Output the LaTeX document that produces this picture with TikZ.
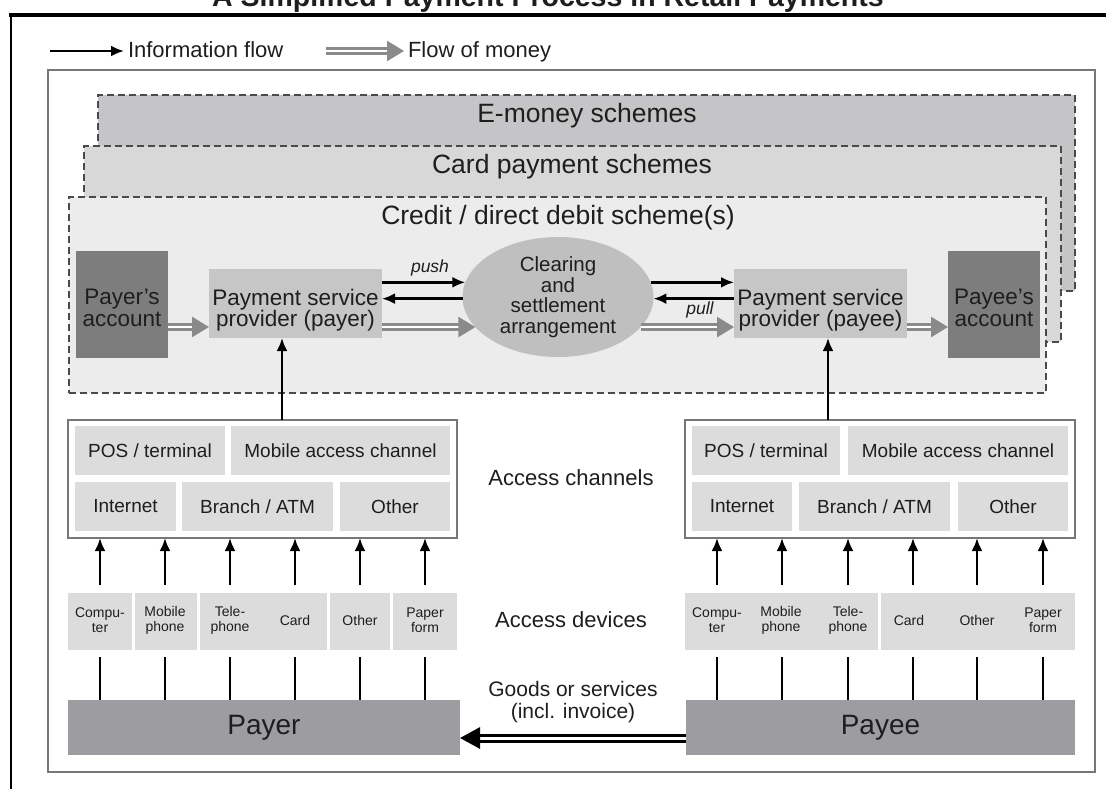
\documentclass[tikz,border=0pt]{standalone}
\usepackage{fontspec}
\setmainfont{Liberation Sans}
\usetikzlibrary{arrows.meta,shapes.geometric}

\definecolor{txt}{HTML}{1E1E1E}
\definecolor{framegray}{HTML}{777777}
\definecolor{dashgray}{HTML}{4A4A4A}
\definecolor{emfill}{HTML}{C5C5C7}
\definecolor{cardfill}{HTML}{D8D8D8}
\definecolor{creditfill}{HTML}{ECECEC}
\definecolor{acctfill}{HTML}{7D7D7D}
\definecolor{pspfill}{HTML}{C6C6C6}
\definecolor{ellfill}{HTML}{BFBFBF}
\definecolor{cellfill}{HTML}{DCDCDC}
\definecolor{partyfill}{HTML}{9D9CA1}
\definecolor{moneygray}{HTML}{8A8A8A}

\begin{document}
\begin{tikzpicture}[x=1pt,y=-1pt,
  every node/.style={inner sep=0pt,outer sep=0pt,text=txt},
  ttl/.style={font=\fontsize{28.5}{32}\selectfont\bfseries},
  bigf/.style={font=\fontsize{26.5}{28}\selectfont},
  midf/.style={font=\fontsize{22.5}{21}\selectfont,align=center},
  acctf/.style={font=\fontsize{22.5}{22}\selectfont,align=center},
  ellf/.style={font=\fontsize{20.5}{20.5}\selectfont,align=center},
  cellf/.style={font=\fontsize{19}{22}\selectfont},
  labf/.style={font=\fontsize{22}{24}\selectfont},
  devf/.style={font=\fontsize{14}{15}\selectfont,align=center},
  partyf/.style={font=\fontsize{28}{30}\selectfont},
  goodsf/.style={font=\fontsize{21}{21.5}\selectfont,align=center},
  italf/.style={font=\fontsize{17.5}{20}\selectfont\itshape},
  outerframe/.style={rectangle,draw=framegray,line width=1.5pt,fill=white},
  schemebox/.style={rectangle,draw=dashgray,line width=1.2pt,dash pattern=on 7pt off 4pt},
  acct/.style={rectangle,fill=acctfill},
  psp/.style={rectangle,fill=pspfill},
  hub/.style={ellipse,fill=ellfill},
  chanbox/.style={rectangle,draw=framegray,line width=1.5pt,fill=white},
  cell/.style={rectangle,fill=cellfill},
  party/.style={rectangle,fill=partyfill},
  info/.style={draw=black,line width=2.9pt,-{Latex[length=13pt,width=11pt]}},
  link/.style={draw=black,line width=2.4pt},
  money/.style={draw=moneygray,line width=2.6pt,double=white,double distance=2.6pt,
    -{Triangle[length=17pt,width=20pt]}},
  goods/.style={draw=black,line width=3pt,double=white,double distance=3pt,
    -{Triangle[length=20pt,width=21pt]}}
]
\useasboundingbox (0,0) rectangle (1106,789);
\fill[white] (0,0) rectangle (1106,789);

% heading and page rules
\node[ttl,anchor=base] (title) at (548,7) {A Simplified Payment Process in Retail Payments};
\draw[line width=3.5pt] (9,15) -- (1106,15);
\draw[line width=2.5pt] (11,15) -- (11,789);

% legend
\coordinate (lg1) at (50,51);
\coordinate (lg2) at (124,51);
\draw[info] (lg1) -- (lg2);
\node[labf,anchor=base west] (legInfo) at (128,58) {Information flow};
\coordinate (lg3) at (326,51);
\coordinate (lg4) at (404,51);
\draw[money] (lg3) -- (lg4);
\node[labf,anchor=base west] (legMoney) at (408,58) {Flow of money};

% outer frame
\node[outerframe,minimum width=1047pt,minimum height=702pt] (frame) at (571.5,421) {};

% stacked payment schemes
\node[schemebox,fill=emfill,minimum width=977pt,minimum height=196pt] (emoney) at (586.5,193) {};
\node[bigf,anchor=base] (tEm) at (587,123) {E-money schemes};
\node[schemebox,fill=cardfill,minimum width=977pt,minimum height=196pt] (card) at (572.5,244) {};
\node[bigf,anchor=base] (tCard) at (572,174) {Card payment schemes};
\node[schemebox,fill=creditfill,minimum width=977pt,minimum height=196pt] (credit) at (557.5,295) {};
\node[bigf,anchor=base] (tCredit) at (558,224) {Credit / direct debit scheme(s)};

% accounts, providers and clearing
\node[acct,minimum width=92pt,minimum height=107pt] (paL) at (122,304.5) {};
\node[acctf] (tpaL) at (122,308) {Payer's\\account};
\node[psp,minimum width=173pt,minimum height=69pt] (pspL) at (295.5,303.5) {};
\node[midf] (tpspL) at (295.5,310) {Payment service\\provider (payer)};
\node[hub,ellf,minimum width=191pt,minimum height=120pt] (csa) at (558,297) {Clearing\\and\\settlement\\arrangement};
\node[psp,minimum width=173pt,minimum height=69pt] (pspR) at (820.5,303.5) {};
\node[midf] (tpspR) at (820.5,310) {Payment service\\provider (payee)};
\node[acct,minimum width=92pt,minimum height=107pt] (paR) at (994,304.5) {};
\node[acctf] (tpaR) at (994,308) {Payee's\\account};

% information flows around the clearing arrangement
\draw[info] (csa.171 -| pspL.east) -- (csa.171);
\draw[info] (csa.181) -- (csa.181 -| pspL.east);
\node[italf] (push) at (430,268) {push};
\draw[info] (csa.9) -- (csa.9 -| pspR.west);
\draw[info] (csa.359 -| pspR.west) -- (csa.359);
\node[italf] (pull) at (700,310) {pull};

% money flows
\draw[money] ([yshift=-22.5pt]paL.east) -- ([yshift=-22.5pt]paL.east -| pspL.west);
\draw[money] (csa.200 -| pspL.east) -- (csa.200);
\draw[money] (csa.340) -- (csa.340 -| pspR.west);
\draw[money] ([yshift=-22.5pt]paR.west -| pspR.east) -- ([yshift=-22.5pt]paR.west);

% access channels
\node[chanbox,minimum width=389pt,minimum height=118pt] (accL) at (262.5,479) {};
\node[cell,cellf,minimum width=150pt,minimum height=49pt] (cPosL) at (150,450.5) {POS / terminal};
\node[cell,cellf,minimum width=219pt,minimum height=49pt] (cMobL) at (340.5,450.5) {Mobile access channel};
\node[cell,cellf,minimum width=101pt,minimum height=49pt] (cNetL) at (125.5,506.5) {Internet};
\node[cell,cellf,minimum width=151pt,minimum height=49pt] (cAtmL) at (257.5,506.5) {Branch / ATM};
\node[cell,cellf,minimum width=110pt,minimum height=49pt] (cOthL) at (395,506.5) {Other};

\node[chanbox,minimum width=390pt,minimum height=118pt] (accR) at (880,479) {};
\node[cell,cellf,minimum width=148pt,minimum height=49pt] (cPosR) at (766,450.5) {POS / terminal};
\node[cell,cellf,minimum width=220pt,minimum height=49pt] (cMobR) at (958,450.5) {Mobile access channel};
\node[cell,cellf,minimum width=100pt,minimum height=49pt] (cNetR) at (742,506.5) {Internet};
\node[cell,cellf,minimum width=151pt,minimum height=49pt] (cAtmR) at (874.5,506.5) {Branch / ATM};
\node[cell,cellf,minimum width=110pt,minimum height=49pt] (cOthR) at (1013,506.5) {Other};

\node[labf] (tChan) at (571,478) {Access channels};

\coordinate (vL) at (282,420);
\draw[info] (vL |- accL.north) -- (vL |- pspL.south);
\coordinate (vR) at (828,420);
\draw[info] (vR |- accR.north) -- (vR |- pspR.south);

% access devices
\node[cell,minimum width=64pt,minimum height=57pt] (dL1) at (100,621.5) {};
\node[cell,minimum width=62pt,minimum height=57pt] (dL2) at (166,621.5) {};
\node[cell,minimum width=127pt,minimum height=57pt] (dL3) at (263.5,621.5) {};
\node[cell,minimum width=60pt,minimum height=57pt] (dL4) at (360,621.5) {};
\node[cell,minimum width=64pt,minimum height=57pt] (dL5) at (425,621.5) {};
\node[cell,minimum width=193pt,minimum height=57pt] (dR1) at (781.5,621.5) {};
\node[cell,minimum width=194pt,minimum height=57pt] (dR2) at (978,621.5) {};

\foreach \x/\t [count=\i] in {100/{Compu-\\ter},165/{Mobile\\phone},230/{Tele-\\phone},295/{Card},360/{Other},425/{Paper\\form}} {
  \node[devf] (lL\i) at (\x,620) {\t};
}
\foreach \x/\t [count=\i] in {717/{Compu-\\ter},781/{Mobile\\phone},848/{Tele-\\phone},909/{Card},977/{Other},1043/{Paper\\form}} {
  \node[devf] (lR\i) at (\x,620) {\t};
}

\node[labf] (tDev) at (571,620) {Access devices};

% payer and payee
\node[party,partyf,minimum width=392pt,minimum height=55pt] (payer) at (264,727.5) {Payer};
\node[party,partyf,minimum width=389pt,minimum height=55pt] (payee) at (880.5,727.5) {Payee};

\foreach \x [count=\i] in {100,165,230,295,360,425} {
  \coordinate (uL\i) at (\x,585);
  \draw[info] (uL\i) -- (uL\i |- accL.south);
  \coordinate (wL\i) at (\x,657);
  \draw[link] (wL\i) -- (wL\i |- payer.north);
}
\foreach \x [count=\i] in {717,782,848,913,977,1043} {
  \coordinate (uR\i) at (\x,585);
  \draw[info] (uR\i) -- (uR\i |- accR.south);
  \coordinate (wR\i) at (\x,657);
  \draw[link] (wR\i) -- (wR\i |- payee.north);
}

% goods delivered to the payer
\draw[goods] ([yshift=-10.5pt]payee.west) -- ([yshift=-10.5pt]payer.east);
\node[goodsf] (tGoods) at (573,702) {Goods or services\\(incl. invoice)};

\end{tikzpicture}
\end{document}
